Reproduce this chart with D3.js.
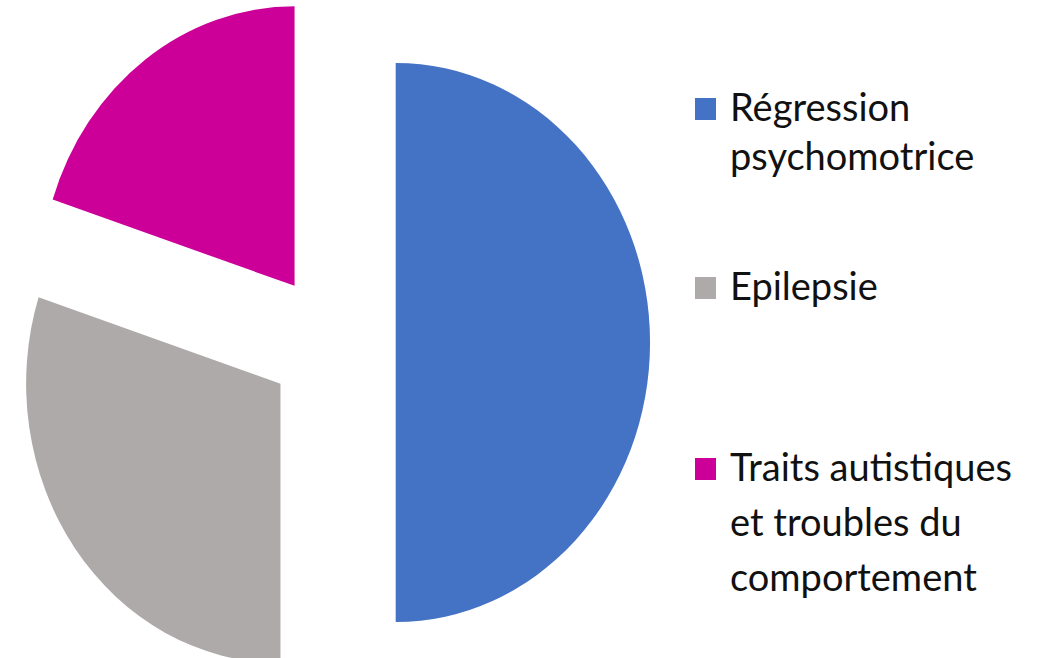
<!DOCTYPE html>
<html>
<head>
<meta charset="utf-8">
<script src="https://cdn.jsdelivr.net/npm/d3@7"></script>
<style>
  body { margin: 0; background: #fff; }
  svg { display: block; }
</style>
</head>
<body>
<svg id="chart" width="1049" height="658"></svg>
<script>
// data
const categories = ["Régression psychomotrice", "Epilepsie", "Traits autistiques et troubles du comportement"]
const values = [50, 30, 20]
const colours = ["#4472C4", "#AEAAAA", "#CC0099"]
const legendLines = [["Régression", "psychomotrice"], ["Epilepsie"], ["Traits autistiques", "et troubles du", "comportement"]]

const svg = d3.select("#chart")

const radius = 279.5
const explode = 70

const pie = d3.pie().sort(null).value(d => d)
const arc = d3.arc().innerRadius(0).outerRadius(radius)

// the original pie is slightly squeezed horizontally
const pieGroup = svg.append("g")
    .attr("transform", "translate(332,342.5) scale(0.91,1)")

pieGroup.selectAll("path")
    .data(pie(values))
    .enter()
    .append("path")
    .attr("d", arc)
    .attr("fill", (d, i) => colours[i])
    .attr("transform", d => {
        const a = (d.startAngle + d.endAngle) / 2
        return `translate(${Math.sin(a) * explode},${-Math.cos(a) * explode})`
    })

// legend
const legendY = [[121, 170], [300], [481, 536, 591]]

const legend = svg.append("g")

categories.forEach((c, i) => {
    const base = legendY[i][0]
    legend.append("rect")
        .attr("x", 695)
        .attr("y", base - 23)
        .attr("width", 21)
        .attr("height", 22)
        .attr("fill", colours[i])
    const txt = legend.append("text")
        .attr("font-family", "Lato, 'Open Sans', sans-serif")
        .attr("font-size", 38)
        .attr("fill", "#111")
    legendLines[i].forEach((line, j) => {
        txt.append("tspan")
            .attr("x", 730)
            .attr("y", legendY[i][j])
            .text(line)
    })
})
</script>
</body>
</html>
